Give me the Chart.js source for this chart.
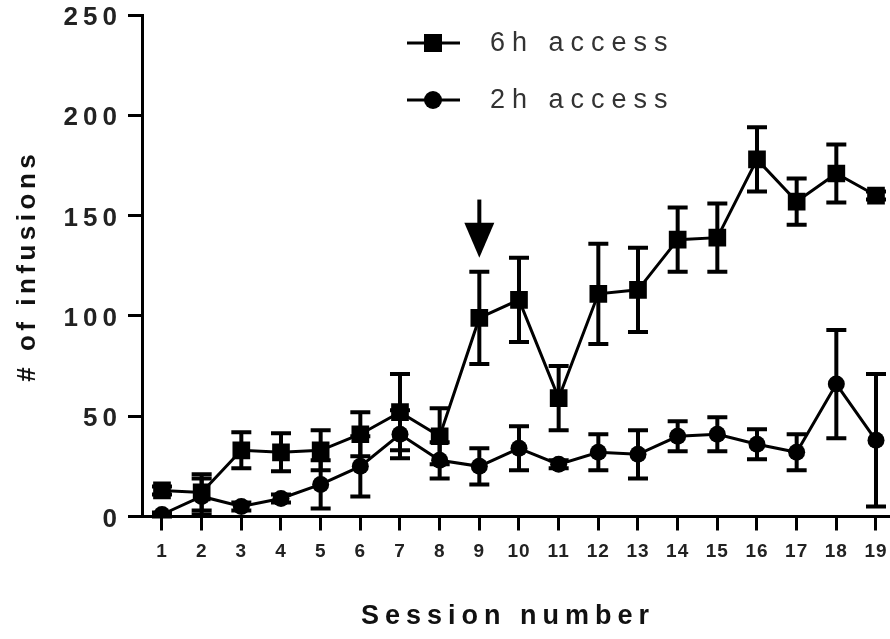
<!DOCTYPE html>
<html>
<head>
<meta charset="utf-8">
<script src="https://cdn.jsdelivr.net/npm/chart.js"></script>
<style>
  html, body { margin: 0; padding: 0; background: #fff; }
  #wrap { width: 890px; height: 639px; position: relative; }
</style>
</head>
<body>
<div id="wrap"><canvas id="c"></canvas></div>
<script>
// ---- data ----
const sessions = [1, 2, 3, 4, 5, 6, 7, 8, 9, 10, 11, 12, 13, 14, 15, 16, 17, 18, 19];
const sixHourLabel = '6h access';
const sixHour    = [13, 12, 33, 32, 33, 41, 52, 40, 99, 108, 59, 111, 113, 138, 139, 178, 157, 171, 160];
const sixHourErr = [2, 9, 9, 9.5, 10, 11, 19, 14, 23, 21, 16, 25, 21, 16, 17, 16, 11.5, 14.5, 2];
const twoHourLabel = '2h access';
const twoHour    = [1, 10, 5, 9, 16, 25, 41, 28, 25, 34, 26, 32, 31, 40, 41, 36, 32, 66, 38];
const twoHourErr = [1, 9, 2, 2, 12, 15, 12, 9, 9, 11, 2, 9, 12, 7.5, 8.5, 7.5, 9, 27, 33];
const yTicks = [0, 50, 100, 150, 200, 250];
const xTitle = 'Session number';
const yTitle = '# of infusions';
const arrowSession = 9;
const arrowFrom = 158;
const arrowTo = 129;

// ---- styling ----
const FONT = "'Liberation Sans', Arial, sans-serif";
const NARROW = "'Liberation Sans Narrow', 'Liberation Sans', Arial, sans-serif";
const spacing = {
  x: { labels: '1px', title: '6px', titleShift: -8 },
  y: { labels: '5px', title: '4.5px', titleShift: 0 }
};

const errors = [sixHourErr, twoHourErr];

const spacingPlugin = {
  id: 'spacing',
  beforeDraw(chart) {
    for (const id of ['x', 'y']) {
      const s = chart.scales[id];
      if (!s || s.__sp) continue;
      const ls = spacing[id];
      const wrap = (fn, v, shift) => function (...a) {
        const c = this.ctx;
        c.save();
        c.letterSpacing = v;
        if (shift) c.translate(shift, 0);
        fn.apply(this, a);
        c.restore();
      };
      s.drawLabels = wrap(s.drawLabels, ls.labels, 0);
      s.drawTitle = wrap(s.drawTitle, ls.title, ls.titleShift);
      s.__sp = true;
    }
  }
};

const errorBarPlugin = {
  id: 'errorBars',
  afterDatasetsDraw(chart) {
    const ctx = chart.ctx;
    const xs = chart.scales.x, ys = chart.scales.y;
    ctx.save();
    ctx.strokeStyle = '#000';
    ctx.lineWidth = 4;
    ctx.lineCap = 'butt';
    chart.data.datasets.forEach((ds, di) => {
      const err = errors[di];
      ds.data.forEach((pt, i) => {
        const e = err[i];
        if (!e) return;
        const x = xs.getPixelForValue(pt.x);
        const yTop = ys.getPixelForValue(pt.y + e);
        const yBot = ys.getPixelForValue(Math.max(pt.y - e, 0));
        const cap = 10;
        ctx.beginPath();
        ctx.moveTo(x, yTop); ctx.lineTo(x, yBot);
        ctx.moveTo(x - cap, yTop); ctx.lineTo(x + cap, yTop);
        ctx.moveTo(x - cap, yBot); ctx.lineTo(x + cap, yBot);
        ctx.stroke();
      });
    });
    // arrow marking session 9
    const ax = xs.getPixelForValue(arrowSession);
    const a1 = ys.getPixelForValue(arrowFrom);
    const a2 = ys.getPixelForValue(arrowTo);
    const headH = 35, headW = 15;
    ctx.beginPath();
    ctx.moveTo(ax, a1); ctx.lineTo(ax, a2 - headH + 2);
    ctx.stroke();
    ctx.fillStyle = '#000';
    ctx.beginPath();
    ctx.moveTo(ax - headW, a2 - headH);
    ctx.lineTo(ax + headW, a2 - headH);
    ctx.lineTo(ax, a2);
    ctx.closePath();
    ctx.fill();
    ctx.restore();
  }
};

const legendPlugin = {
  id: 'customLegend',
  afterDraw(chart) {
    const ctx = chart.ctx;
    const rows = [
      { ds: chart.data.datasets[0], y: 43 },
      { ds: chart.data.datasets[1], y: 100 }
    ];
    ctx.save();
    rows.forEach(r => {
      ctx.strokeStyle = '#000';
      ctx.lineWidth = 3;
      ctx.beginPath();
      ctx.moveTo(407, r.y); ctx.lineTo(460, r.y);
      ctx.stroke();
      ctx.fillStyle = '#000';
      if (r.ds.pointStyle === 'rect') {
        ctx.fillRect(433 - 9, r.y - 9, 18, 18);
      } else {
        ctx.beginPath(); ctx.arc(433, r.y, 9, 0, Math.PI * 2); ctx.fill();
      }
      ctx.fillStyle = '#333';
      ctx.font = '27px ' + FONT;
      ctx.letterSpacing = '7px';
      ctx.textAlign = 'left';
      ctx.textBaseline = 'middle';
      ctx.fillText(r.ds.label, 490, r.y + 1);
    });
    ctx.restore();
  }
};

new Chart(document.getElementById('c'), {
  type: 'line',
  data: {
    datasets: [
      {
        label: sixHourLabel,
        data: sessions.map((s, i) => ({ x: s, y: sixHour[i] })),
        borderColor: '#000', backgroundColor: '#000',
        borderWidth: 3, pointStyle: 'rect', pointRadius: 12.5,
        pointBorderWidth: 0, tension: 0, fill: false
      },
      {
        label: twoHourLabel,
        data: sessions.map((s, i) => ({ x: s, y: twoHour[i] })),
        borderColor: '#000', backgroundColor: '#000',
        borderWidth: 3, pointStyle: 'circle', pointRadius: 8.5,
        pointBorderWidth: 0, tension: 0, fill: false
      }
    ]
  },
  options: {
    responsive: true,
    maintainAspectRatio: false,
    animation: false,
    events: [],
    layout: { autoPadding: false, padding: { top: 0, right: 0, bottom: 0, left: 0 } },
    plugins: { legend: { display: false }, tooltip: { enabled: false } },
    scales: {
      x: {
        type: 'linear',
        min: 0.496, max: 19.353,
        afterBuildTicks: (s) => { s.ticks = sessions.map(v => ({ value: v })); },
        afterFit: (s) => { s.height = 122.5; s.paddingLeft = 0; s.paddingRight = 0; },
        border: { display: true, color: '#000', width: 3 },
        grid: { display: true, drawOnChartArea: false, drawTicks: true, tickLength: 14, tickWidth: 3, tickColor: '#000' },
        ticks: {
          autoSkip: false, maxRotation: 0, padding: 10, color: '#222',
          font: { family: NARROW, size: 19, weight: 'bold' },
          callback: (v) => String(v)
        },
        title: {
          display: true, text: xTitle, color: '#111',
          font: { family: FONT, size: 27, weight: 'bold' },
          padding: { top: 0, bottom: 6 }
        }
      },
      y: {
        min: 0, max: 250,
        afterBuildTicks: (s) => { s.ticks = yTicks.map(v => ({ value: v })); },
        afterFit: (s) => { s.width = 142; s.paddingTop = 15; s.paddingBottom = 0; },
        border: { display: true, color: '#000', width: 3 },
        grid: { display: true, drawOnChartArea: false, drawTicks: true, tickLength: 14, tickWidth: 3, tickColor: '#000' },
        ticks: {
          padding: 6, color: '#222', labelOffset: 3,
          font: { family: FONT, size: 26, weight: 'bold' }
        },
        title: {
          display: true, text: yTitle, color: '#111',
          font: { family: FONT, size: 26, weight: 'bold' },
          padding: { top: 12, bottom: 0 }
        }
      }
    }
  },
  plugins: [spacingPlugin, errorBarPlugin, legendPlugin]
});
</script>
</body>
</html>
